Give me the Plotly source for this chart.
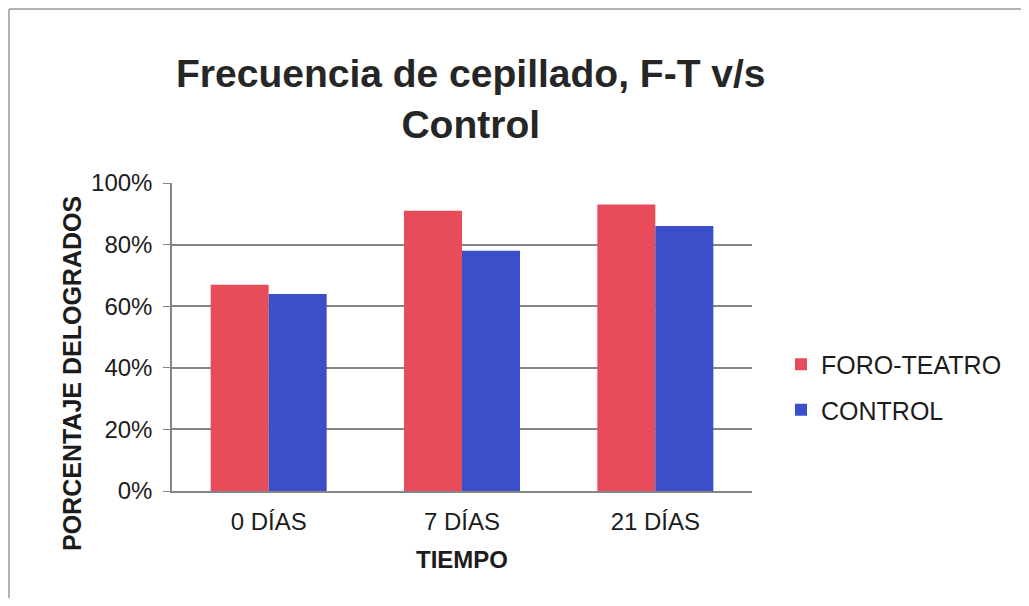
import plotly.graph_objects as go

categories = ["0 DÍAS", "7 DÍAS", "21 DÍAS"]
foro_teatro = [0.67, 0.91, 0.93]
control = [0.64, 0.78, 0.86]
series_names = ["FORO-TEATRO", "CONTROL"]
colors = ["#E84C5B", "#3B4FCB"]
y_ticks = [0, 0.2, 0.4, 0.6, 0.8, 1.0]
y_tick_labels = ["0%", "20%", "40%", "60%", "80%", "100%"]

# browser body margin is 8px on each side; keep the page within the window
OFF = 8
W, H = 1029 - 2 * OFF, 606 - 2 * OFF
L, R, T, B = 172 - OFF, 752 - OFF, 183 - OFF, 491 - OFF

def px_x(p):  # screen px -> paper x
    return (p - OFF - L) / (R - L)

def px_y(p):  # screen px -> paper y
    return (B - (p - OFF)) / (B - T)

TXT = "#1c1c1c"

fig = go.Figure()
for name, vals, col in zip(series_names, [foro_teatro, control], colors):
    fig.add_trace(go.Bar(x=categories, y=vals, name=name, marker_color=col,
                         marker_line_width=0, legendgroup=name))

fig.update_layout(
    width=W, height=H,
    margin=dict(l=L, r=W - R, t=T, b=H - B, autoexpand=False),
    paper_bgcolor="white", plot_bgcolor="white",
    font=dict(family="Liberation Sans, Arial, sans-serif", color=TXT),
    barmode="group", bargap=0.4, bargroupgap=0,
    legend=dict(x=px_x(781), xanchor="left", y=px_y(387), yanchor="middle",
                font=dict(size=25, color=TXT), tracegroupgap=10,
                itemwidth=30, bgcolor="rgba(0,0,0,0)"),
    showlegend=True,
)
fig.update_yaxes(range=[0, 1], tickvals=y_ticks, ticktext=y_tick_labels,
                 showgrid=True, gridcolor="#858585", gridwidth=1.5,
                 showline=True, linecolor="#858585", linewidth=1.5,
                 ticks="outside", ticklen=7, tickcolor="#858585",
                 ticklabelstandoff=6,
                 tickfont=dict(size=24, color=TXT), zeroline=False)
fig.update_xaxes(showline=True, linecolor="#858585", linewidth=1.5,
                 ticks="outside", ticklen=8, tickcolor="rgba(0,0,0,0)",
                 tickfont=dict(size=24, color=TXT))

# title
fig.add_annotation(text="<b>Frecuencia de cepillado, F-T v/s<br>Control</b>",
                   xref="paper", yref="paper", x=px_x(471), y=px_y(99),
                   xanchor="center", yanchor="middle", showarrow=False,
                   font=dict(size=39, color="#262626"))
# axis titles
fig.add_annotation(text="<b>PORCENTAJE DELOGRADOS</b>", textangle=-90,
                   xref="paper", yref="paper", x=px_x(72), y=px_y(374),
                   xanchor="center", yanchor="middle", showarrow=False,
                   font=dict(size=25, color=TXT))
fig.add_annotation(text="<b>TIEMPO</b>",
                   xref="paper", yref="paper", x=px_x(462), y=px_y(559),
                   xanchor="center", yanchor="middle", showarrow=False,
                   font=dict(size=24, color=TXT))

# outer chart frame: top and left edges of the scanned chart box
frame = dict(color="#9a9a9a", width=1.5)
fig.add_shape(type="line", xref="paper", yref="paper",
              x0=px_x(9), x1=px_x(1040), y0=px_y(9), y1=px_y(9), line=frame)
fig.add_shape(type="line", xref="paper", yref="paper",
              x0=px_x(9), x1=px_x(9), y0=px_y(9), y1=px_y(610), line=frame)

fig.write_html("out.html")
